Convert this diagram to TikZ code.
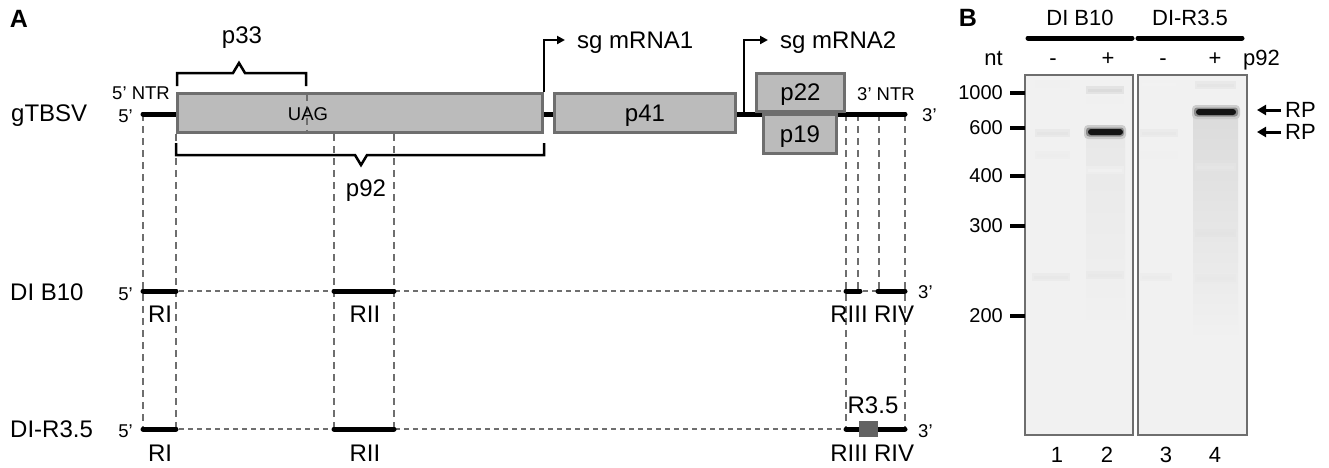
\documentclass[tikz,border=0pt]{standalone}
\usepackage{fontspec}
\setmainfont{Liberation Sans}
\usetikzlibrary{arrows.meta,calc}

\definecolor{boxgray}{HTML}{BBBBBB}
\definecolor{edgegray}{HTML}{6E6E6E}
\definecolor{gelbg}{HTML}{F1F1F1}

\tikzset{
  orf/.style={draw=edgegray, fill=boxgray, line width=3pt, inner sep=0pt, text depth=0pt},
  rna/.style={line width=5pt, line cap=round},
  guide/.style={edgegray, line width=1.4pt, dash pattern=on 7pt off 5pt},
  gap/.style={edgegray, line width=1.4pt, dash pattern=on 5pt off 4pt},
  lbl/.style={font=\fontsize{24}{28}\selectfont, inner sep=0pt},
  gellbl/.style={font=\fontsize{22}{26}\selectfont, inner sep=0pt},
  small/.style={font=\fontsize{18.5}{20}\selectfont, inner sep=0pt},
  sizemark/.style={font=\fontsize{20}{24}\selectfont, inner sep=0pt, anchor=east},
  brace/.style={line width=2.5pt},
  panel/.style={font=\fontsize{25}{27}\selectfont\bfseries, inner sep=0pt},
  sgarrow/.style={line width=2.5pt, -{Triangle[length=8pt,width=8pt]}},
  rparrow/.style={line width=3pt, -{Triangle[length=9pt,width=10pt]}},
}

\begin{document}
\begin{tikzpicture}[x=1pt,y=-1pt]
\useasboundingbox (0,0) rectangle (1329,467);

\node[panel] (A) at (19,19) {A};
\node[lbl,anchor=base west] (gname) at (11,121) {gTBSV};
\node[lbl,anchor=base west] (dname) at (10,300) {DI B10};
\node[lbl,anchor=base west] (rname) at (10,437) {DI-R3.5};

\foreach \x/\a/\b in {143/114/429,176/134/429,334/134/429,394/134/429,846/114/429,905/114/429,858/114/291,879/114/291}
  \draw[guide] (\x,\a) -- (\x,\b);

\draw[rna] (143,114) -- (905,114);
\node[orf,minimum width=365pt,minimum height=39pt] (p92box) at (360,113) {};
\node[orf,lbl,minimum width=181pt,minimum height=39pt] (p41box) at (645,113) {p41};
\node[orf,lbl,minimum width=73pt,minimum height=39pt] (p19box) at (800,134) {p19};
\node[orf,lbl,minimum width=88pt,minimum height=38pt] (p22box) at (800.5,92.5) {p22};
\draw[guide] (307,93.5) -- (307,132.5);
\node[small] (uag) at (308,114.5) {UAG};

\node[small,anchor=base east] (ntr5) at (170,99) {5' NTR};
\node[small,anchor=base east] (g5) at (133,122) {5'};
\node[small,anchor=base west] (ntr3) at (857,100) {3' NTR};
\node[small,anchor=base west] (g3) at (922,121) {3'};

\draw[brace] (177,86) -- (177,73) -- (233,73) -- (239,63) -- (245,73) -- (306,73) -- (306,86);
\node[lbl,anchor=base] (p33) at (242,43) {p33};
\draw[brace] (176,143) -- (176,155) -- (355,155) -- (361,165) -- (367,155) -- (544,155) -- (544,143);
\node[lbl,anchor=base] (p92) at (366,196) {p92};

\node[lbl,anchor=base west] (sg1) at (577,48) {sg mRNA1};
\node[lbl,anchor=base west] (sg2) at (780,48) {sg mRNA2};
\coordinate (sg2root) at (744,114);
\draw[sgarrow] (p92box.north east) |- ($(sg1.base west)+(-12,-8)$);
\draw[sgarrow] (sg2root) |- ($(sg2.base west)+(-12,-8)$);

\draw[gap] (143,291) -- (905,291);
\foreach \a/\b in {143/176,334/394,846/860,878/905}
  \draw[rna] (\a,291) -- (\b,291);
\draw[gap] (143,429) -- (905,429);
\foreach \a/\b in {143/176,334/394,846/905}
  \draw[rna] (\a,429) -- (\b,429);
\fill[edgegray!90!black] (859,421) rectangle (878,437);
\node[lbl,anchor=base] (r35) at (873,413) {R3.5};

\node[small,anchor=base east] (d5) at (133,300) {5'};
\node[small,anchor=base west] (d3) at (918,298) {3'};
\node[small,anchor=base east] (r5) at (133,437) {5'};
\node[small,anchor=base west] (r3) at (918,437) {3'};

\foreach \y/\r in {322/d,461/r}{
  \node[lbl,anchor=base] (\r I) at (160,\y) {RI};
  \node[lbl,anchor=base] (\r II) at (365,\y) {RII};
  \node[lbl,anchor=base] (\r III) at (849,\y) {RIII};
  \node[lbl,anchor=base] (\r IV) at (894,\y) {RIV};
}

% panel B
\node[panel] (B) at (968,18) {B};
\node[gellbl,anchor=base] (hb10) at (1080,25) {DI B10};
\node[gellbl,anchor=base] (hr35) at (1190,25) {DI-R3.5};
\draw[rna] (1028,38) -- (1132,38);
\draw[rna] (1138,38) -- (1242,38);
\node[gellbl,anchor=base east] (nt) at (1003,65) {nt};
\foreach \x/\s/\n in {1053/-/m1,1108/+/p1,1163/-/m2,1215/+/p2}
  \node[gellbl,anchor=base] (\n) at (\x,65) {\s};
\node[gellbl,anchor=base west] (p92b) at (1243,65) {p92};

\fill[gelbg] (1025,75) rectangle (1133,435);
\fill[gelbg] (1138,75) rectangle (1247,435);
\shade[top color=black!9,bottom color=gelbg] (1086,138) rectangle (1125,330);
\shade[top color=black!14,bottom color=gelbg] (1193,116) rectangle (1238,340);
\foreach \a/\b/\y/\k in {1035/1070/84/6,1035/1070/133/10,1035/1070/155/7,1032/1070/277/9,
  1086/1124/90/14,1086/1124/100/6,1086/1124/170/6,1086/1124/255/7,1086/1124/275/9,
  1140/1178/84/5,1140/1178/133/9,1140/1178/155/6,1140/1172/277/8,
  1195/1236/85/10,1195/1236/167/10,1195/1236/233/11,1195/1236/278/9}{
  \fill[black!\k,opacity=0.6] (\a,\y-4) rectangle (\b,\y+4);
  \fill[black!\k] (\a+2,\y-1.5) rectangle (\b-2,\y+1.5);
}
\fill[black!20,rounded corners=4pt] (1084,125) rectangle (1126,139);
\fill[black!45,rounded corners=3pt] (1086,127.5) rectangle (1124,136.5);
\fill[black!92,rounded corners=3pt] (1088,129) rectangle (1123,135);
\fill[black!20,rounded corners=4pt] (1192,105) rectangle (1240,119);
\fill[black!45,rounded corners=3pt] (1194,107.5) rectangle (1238,116.5);
\fill[black!92,rounded corners=3pt] (1196,109) rectangle (1236,115);
\draw[edgegray,line width=1.5pt] (1025,75) rectangle (1133,435);
\draw[edgegray,line width=1.5pt] (1138,75) rectangle (1247,435);

\foreach \y/\t in {93/1000,128/600,176/400,226/300,316/200}{
  \node[sizemark] (m\t) at (1003,\y) {\t};
  \draw[line width=4pt] (1010,\y) -- (1025,\y);
}

\node[gellbl,anchor=west] (rp1) at (1285,110) {RP};
\node[gellbl,anchor=west] (rp2) at (1285,132) {RP};
\coordinate (rp1tip) at (1257,110);
\coordinate (rp2tip) at (1257,132);
\draw[rparrow] (rp1.west) ++(-4,0) -- (rp1tip);
\draw[rparrow] (rp2.west) ++(-4,0) -- (rp2tip);

\foreach \x/\t in {1057/1,1107/2,1166/3,1215/4}
  \node[gellbl] (lane\t) at (\x,455) {\t};
\end{tikzpicture}
\end{document}
